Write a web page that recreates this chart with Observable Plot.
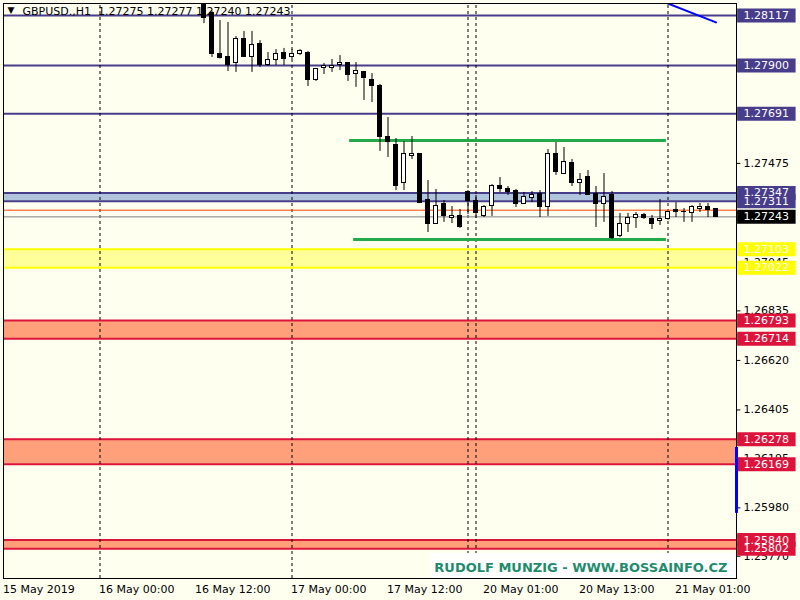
<!DOCTYPE html>
<html><head><meta charset="utf-8">
<script src="https://cdn.jsdelivr.net/npm/d3@7"></script>
<script src="https://cdn.jsdelivr.net/npm/@observablehq/plot@0.6"></script>
<style>body{margin:0;background:#fffff0;overflow:hidden}</style>
</head><body><div id="chart"></div>
<script>
// ---- data (hourly candles, index 0 = 15 May 12:00) ----
const firstIndex = 25;
const opens  = [1.28200,1.28126,1.27948,1.27939,1.27909,1.28017,1.27935,1.27995,1.27900,1.27926,1.27956,1.27935,1.27952,1.27956,1.27839,1.27887,1.27887,1.27900,1.27909,1.27865,1.27870,1.27839,1.27813,1.27588,1.27557,1.27388,1.27509,1.27514,1.27318,1.27214,1.27297,1.27236,1.27245,1.27353,1.27310,1.27245,1.27292,1.27375,1.27362,1.27357,1.27301,1.27323,1.27344,1.27284,1.27518,1.27431,1.27475,1.27392,1.27414,1.27344,1.27297,1.27336,1.27158,1.27214,1.27236,1.27249,1.27232,1.27223,1.27232,1.27271,1.27262,1.27258,1.27279,1.27284,1.27275];
const highs  = [1.28220,1.28135,1.28095,1.28087,1.28026,1.28048,1.28048,1.28008,1.27956,1.27969,1.27974,1.27969,1.27969,1.27961,1.27887,1.27909,1.27926,1.27943,1.27913,1.27913,1.27874,1.27865,1.27818,1.27674,1.27583,1.27570,1.27592,1.27518,1.27401,1.27362,1.27314,1.27288,1.27275,1.27357,1.27336,1.27292,1.27383,1.27414,1.27375,1.27362,1.27349,1.27353,1.27357,1.27535,1.27566,1.27544,1.27492,1.27431,1.27444,1.27375,1.27431,1.27353,1.27258,1.27258,1.27262,1.27258,1.27249,1.27318,1.27266,1.27305,1.27279,1.27292,1.27301,1.27301,1.27279];
const lows   = [1.28082,1.27935,1.27928,1.27874,1.27870,1.27935,1.27870,1.27891,1.27896,1.27900,1.27900,1.27926,1.27943,1.27809,1.27831,1.27861,1.27870,1.27878,1.27831,1.27805,1.27748,1.27739,1.27527,1.27501,1.27357,1.27357,1.27492,1.27301,1.27175,1.27210,1.27219,1.27214,1.27193,1.27253,1.27236,1.27240,1.27245,1.27349,1.27336,1.27284,1.27297,1.27305,1.27240,1.27245,1.27423,1.27427,1.27375,1.27336,1.27336,1.27197,1.27219,1.27145,1.27153,1.27175,1.27193,1.27232,1.27188,1.27206,1.27228,1.27240,1.27219,1.27219,1.27262,1.27240,1.27240];
const closes = [1.28108,1.27952,1.27931,1.27904,1.28017,1.27939,1.27991,1.27904,1.27926,1.27948,1.27930,1.27952,1.27961,1.27835,1.27883,1.27896,1.27896,1.27909,1.27857,1.27874,1.27844,1.27813,1.27588,1.27566,1.27375,1.27514,1.27518,1.27305,1.27210,1.27292,1.27245,1.27245,1.27197,1.27310,1.27258,1.27288,1.27379,1.27362,1.27353,1.27301,1.27331,1.27336,1.27284,1.27514,1.27436,1.27479,1.27392,1.27405,1.27340,1.27301,1.27331,1.27153,1.27210,1.27240,1.27253,1.27236,1.27214,1.27232,1.27262,1.27262,1.27266,1.27284,1.27284,1.27271,1.27243];

const levelPrices = [1.28117, 1.27900, 1.27691];
const bandHigh  = [1.27347, 1.27103, 1.26793, 1.26278, 1.25840];
const bandLow   = [1.27311, 1.27022, 1.26714, 1.26169, 1.25802];
const bandKind  = ["blue", "yellow", "red", "red", "red"];
const bidPrice = 1.27243;
const askLinePrice = 1.27272;
const tickValues = [1.27475, 1.27045, 1.26835, 1.26620, 1.26405, 1.26195, 1.25980, 1.25770];
const timeIndex = [0, 12, 24, 36, 48, 60, 72, 84];
const timeText  = ["15 May 2019","16 May 00:00","16 May 12:00","17 May 00:00","17 May 12:00","20 May 01:00","20 May 13:00","21 May 01:00"];
const separatorIndex = [12, 36, 58, 59, 83];
const greenPrice = [1.27574, 1.27145];
const greenFrom  = [43.2, 43.7];
const greenTo    = [82.8, 82.8];
const trendIndex = [83, 89];
const trendPrice = [1.28169, 1.28087];
const markerLow = 1.25956, markerHigh = 1.26242;
const title = "GBPUSD.,H1  1.27275 1.27277 1.27240 1.27243";
const watermark = "RUDOLF MUNZIG - WWW.BOSSAINFO.CZ";

// ---- derived tables ----
const candles = opens.map((o, k) => ({i: firstIndex + k, o, h: highs[k], l: lows[k], c: closes[k]}));
const kindStyle = {
  blue:   {fill: "#b0c4de", line: "#483d8b", label: "#483d8b"},
  yellow: {fill: "#ffff99", line: "#ffff00", label: "#ffff00"},
  red:    {fill: "#ffa07a", line: "#dc143c", label: "#dc143c"}
};
const bands = bandHigh.map((h, k) => ({h, l: bandLow[k], kind: bandKind[k]}));
const bandEdges = bands.flatMap(b => [{p: b.h, kind: b.kind}, {p: b.l, kind: b.kind}]);
const objLabels = [
  ...levelPrices.map(p => ({p, bg: "#483d8b"})),
  ...bandEdges.map(e => ({p: e.p, bg: kindStyle[e.kind].label})),
  {p: bidPrice, bg: "#000000"}
];
const ticks = tickValues.map(p => ({p}));
const times = timeIndex.map((i, k) => ({i, t: timeText[k]}));
const greens = greenPrice.map((p, k) => ({p, x1: greenFrom[k], x2: greenTo[k]}));
const trend = trendIndex.map((i, k) => ({i, p: trendPrice[k]}));

const xMin = -0.0625, xMax = 91.5625;
const yMin = 1.256734, yMax = 1.281691;
const boxX1 = xMax + 0.14, boxX2 = xMax + 7.45;
const wmBoxLeft = 53.4, wmBoxTop = 1.25782;
const font = "DejaVu Sans";
const bodyHalf = 0.25;

const chart = Plot.plot({
  width: 800, height: 600,
  marginLeft: 3, marginRight: 64, marginTop: 3, marginBottom: 22,
  x: {domain: [xMin, xMax], axis: null},
  y: {domain: [yMin, yMax], axis: null},
  style: {background: "#fffff0", overflow: "visible", fontFamily: font},
  marks: [
    // bands
    Plot.rect(bands, {x1: xMin, x2: xMax, y1: "l", y2: "h", fill: d => kindStyle[d.kind].fill}),
    Plot.ruleY(bandEdges, {y: "p", x1: xMin, x2: xMax, stroke: d => kindStyle[d.kind].line, strokeWidth: 2}),
    // level lines
    Plot.ruleY(levelPrices, {x1: xMin, x2: xMax, stroke: "#483d8b", strokeWidth: 2}),
    // period separators
    Plot.ruleX(separatorIndex, {y1: yMin, y2: yMax, stroke: "black", strokeDasharray: "3,3", strokeWidth: 1}),
    // ask / bid lines
    Plot.ruleY([askLinePrice], {x1: xMin, x2: xMax, stroke: "#ff4500", strokeWidth: 1}),
    Plot.ruleY([bidPrice], {x1: xMin, x2: xMax, stroke: "#808080", strokeWidth: 1}),
    // green horizontal segments
    Plot.ruleY(greens, {y: "p", x1: "x1", x2: "x2", stroke: "#22aa4a", strokeWidth: 3}),
    // title
    Plot.text(["▼"], {frameAnchor: "top-left", dx: 4, dy: 3, lineAnchor: "top", fontSize: 9, fill: "black"}),
    Plot.text([title], {frameAnchor: "top-left", dx: 19, dy: 4, lineAnchor: "top", textAnchor: "start", fontSize: 11, fill: "black"}),
    // candles
    Plot.ruleX(candles, {x: "i", y1: "l", y2: "h", stroke: "black", strokeWidth: 1, clip: true}),
    Plot.rect(candles, {x1: d => d.i - bodyHalf, x2: d => d.i + bodyHalf, y1: "o", y2: "c",
      fill: d => d.c >= d.o ? "white" : "black", stroke: "black", strokeWidth: 1, clip: true, shapeRendering: "crispEdges"}),
    // trend line
    Plot.line(trend, {x: "i", y: "p", stroke: "#0000ff", strokeWidth: 2, clip: true}),
    // watermark
    Plot.rect([0], {x1: wmBoxLeft, x2: xMax, y1: yMin, y2: wmBoxTop, fill: "white"}),
    Plot.text([watermark], {frameAnchor: "bottom-right", dx: -9, dy: -7, textAnchor: "end", lineAnchor: "bottom",
      fontSize: 13, fontWeight: "bold", fill: "#1e8c6c", fontFamily: "DejaVu Sans"}),
    // frame
    Plot.frame({stroke: "black"}),
    // right scale ticks and labels
    Plot.ruleY(ticks, {y: "p", x1: xMax, x2: xMax + 0.55, stroke: "black"}),
    Plot.text(ticks, {y: "p", x: xMax, dx: 7, text: d => d.p.toFixed(5), textAnchor: "start", fontSize: 11, fill: "black"}),
    // object labels
    Plot.ruleY(objLabels, {y: "p", x1: boxX1, x2: boxX2, stroke: "bg", strokeWidth: 14}),
    Plot.text(objLabels, {y: "p", x: xMax, dx: 7, text: d => d.p.toFixed(5), textAnchor: "start", fontSize: 11, fill: "white"}),
    // blue marker bar on the scale edge
    Plot.ruleX([xMax], {y1: markerLow, y2: markerHigh, stroke: "#0000ff", strokeWidth: 3}),
    // time axis
    Plot.text(times, {x: "i", frameAnchor: "bottom", dy: 14, dx: -1, text: "t", textAnchor: "start", fontSize: 11, fill: "black"})
  ]
});
document.getElementById("chart").appendChild(chart);
</script>
</body></html>
